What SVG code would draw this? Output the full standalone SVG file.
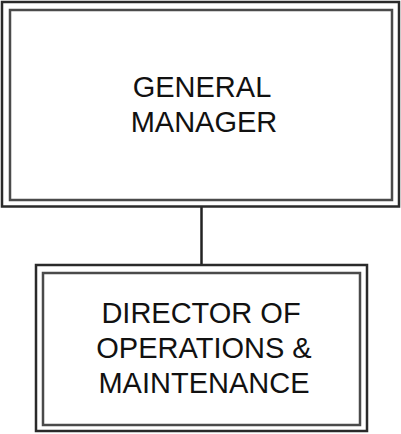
<svg xmlns="http://www.w3.org/2000/svg" width="401" height="434" viewBox="0 0 401 434">
<style>
.o{fill:none;stroke:#2a2a2a;stroke-width:2.5}
.i{fill:none;stroke:#4a4a4a;stroke-width:2.5}
.t{font-family:"Liberation Sans",Arial,sans-serif;font-size:29px;fill:#111;text-anchor:middle}
.c{stroke:#222;stroke-width:2.5;fill:none}
</style>
<rect width="401" height="434" fill="#fff"/>
<g id="connectors">
<line class="c" x1="201.5" y1="206" x2="201.5" y2="265"/>
</g>
<g id="general-manager">
<rect class="o" x="2" y="2" width="397" height="204.5"/>
<rect class="i" x="10" y="10" width="382" height="190"/>
<text class="t" x="202" y="97">GENERAL</text>
<text class="t" x="204" y="132">MANAGER</text>
</g>
<g id="director-operations-maintenance">
<rect class="o" x="36" y="265" width="331" height="166"/>
<rect class="i" x="43" y="273" width="317" height="152"/>
<text class="t" x="201" y="323">DIRECTOR OF</text>
<text class="t" x="204" y="358">OPERATIONS &amp;</text>
<text class="t" x="204" y="393">MAINTENANCE</text>
</g>
</svg>
